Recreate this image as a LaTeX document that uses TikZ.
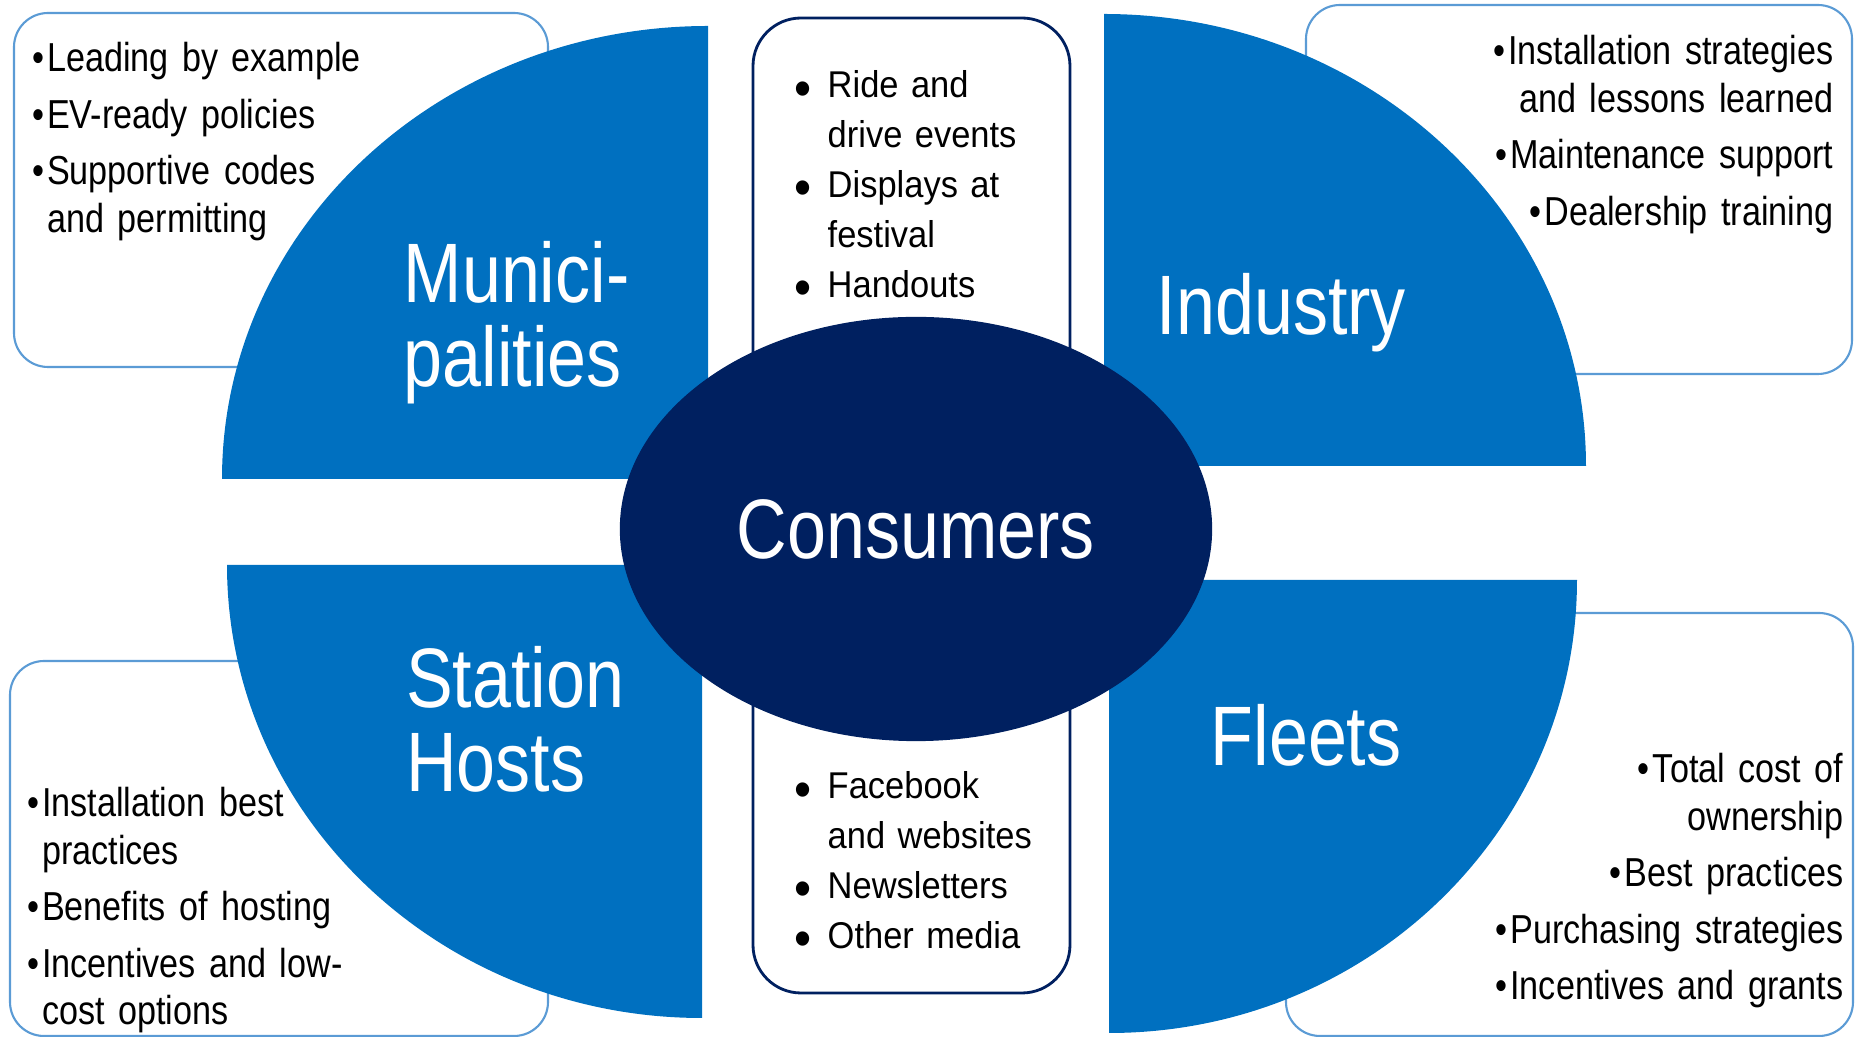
\documentclass[tikz,border=0pt]{standalone}
\usepackage{fontspec}
\setmainfont{Liberation Sans}[FakeStretch=0.845]
\newfontfamily\bigfont{Liberation Sans}[FakeStretch=0.83]
\newfontfamily\midfont{Liberation Sans}[FakeStretch=0.925]
\usetikzlibrary{shapes.geometric}
\definecolor{qblue}{RGB}{0,112,192}
\definecolor{navy}{RGB}{0,32,96}
\definecolor{lineblue}{RGB}{91,155,213}
\newcommand{\blt}{\makebox[0.15cm][l]{•}}
\newcommand{\bli}{\hspace*{0.15cm}}
\newcommand{\cbl}{\makebox[0.33cm][l]{\raisebox{-2.4pt}{\fontsize{15}{15}\selectfont •}}}
\newcommand{\cbi}{\hspace*{0.33cm}}
\begin{document}
\begin{tikzpicture}[line cap=round,line join=round,x=0.01cm,y=-0.01cm,
	sidebox/.style={draw=lineblue,line width=0.6pt,rounded corners=0.34cm},
	midbox/.style={draw=navy,fill=white,line width=0.8pt,rounded corners=0.48cm},
	quarter/.style={fill=qblue},
	biglabel/.style={anchor=base west,inner sep=0pt,text=white,text width=3cm,align=left,font=\bigfont\fontsize{24}{23.8}\selectfont},
	leftlist/.style={anchor=base west,inner sep=0pt,text width=4.6cm,align=left,font=\fontsize{11.5}{13.4}\selectfont},
	rightlist/.style={anchor=base east,inner sep=0pt,text width=4.6cm,align=right,font=\fontsize{11.5}{13.4}\selectfont},
	midlist/.style={anchor=base west,inner sep=0pt,text width=3cm,align=left,font=\midfont\fontsize{10.6}{14.15}\selectfont}]
		\useasboundingbox (0,0) rectangle (1856,1037);
		% outer boxes
		\draw [sidebox] (14,13) rectangle (548,367);
		\draw [sidebox] (1306,5) rectangle (1852,374);
		\draw [sidebox] (10,661) rectangle (548,1036);
		\draw [sidebox] (1286,613) rectangle (1853,1036);
		% quarters
		\fill [quarter] (708,479) -- (222,479) arc[start angle=180,end angle=270,x radius=486,y radius=453] -- cycle;
		\fill [quarter] (1104,466) -- (1104,14) arc[start angle=270,end angle=360,x radius=482,y radius=452] -- cycle;
		\fill [quarter] (702,565) -- (227,565) arc[start angle=180,end angle=90,x radius=475,y radius=453] -- cycle;
		\fill [quarter] (1109,580) -- (1577,580) arc[start angle=0,end angle=90,x radius=468,y radius=453] -- cycle;
		% centre boxes and ellipse
		\draw [midbox] (753,18) rectangle (1070,450);
		\draw [midbox] (753,600) rectangle (1070,993);
		\node [ellipse,fill=navy,inner sep=0pt,minimum width=5.92cm,minimum height=4.24cm,text=white,font=\bigfont\fontsize{24}{24}\selectfont] (con) at (916,529) {Consumers};
		% labels
		\node [biglabel] (mun) at (403,302.7) {Munici-\\palities};
		\node [biglabel] (ind) at (1156,335) {Industry};
		\node [biglabel] (sta) at (405.5,708) {Station\\Hosts};
		\node [biglabel] (flt) at (1210,766) {Fleets};
		% lists
		\node [leftlist] (munlist) at (31.5,71.7) {\blt Leading by example\\[2.7pt]\blt EV-ready policies\\[2.7pt]\blt Supportive codes\\\bli and permitting};
		\node [rightlist] (indlist) at (1834,65) {\blt Installation strategies\\and lessons learned\\[2.7pt]\blt Maintenance support\\[2.7pt]\blt Dealership training};
		\node [leftlist] (stalist) at (26.5,817) {\blt Installation best\\\bli practices\\[2.7pt]\blt Benefits of hosting\\[2.7pt]\blt Incentives and low-\\\bli cost options};
		\node [rightlist] (fltlist) at (1844,783) {\blt Total cost of\\ownership\\[2.7pt]\blt Best practices\\[2.7pt]\blt Purchasing strategies\\[2.7pt]\blt Incentives and grants};
		\node [midlist] (toplist) at (794,98) {\cbl Ride and\\\cbi drive events\\\cbl Displays at\\\cbi festival\\\cbl Handouts};
		\node [midlist] (botlist) at (794,799) {\cbl Facebook\\\cbi and websites\\\cbl Newsletters\\\cbl Other media};
	\end{tikzpicture}
\end{document}
